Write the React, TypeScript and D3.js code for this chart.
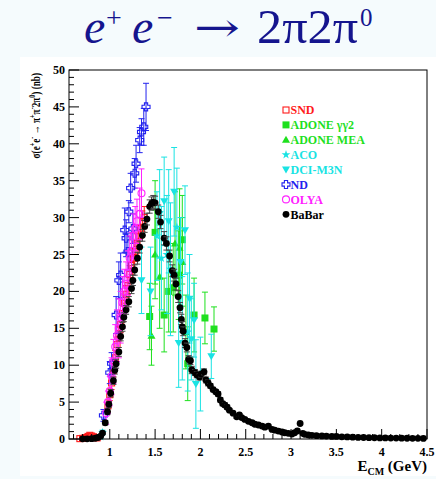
import React from "react";
import * as d3 from "d3";

// ---------- data (E in GeV, sigma in nb, error in nb) ----------
const sndData: [number, number, number][] = [
  [0.67, 0.05, 0.04], [0.7, 0.08, 0.05], [0.72, 0.12, 0.06], [0.74, 0.2, 0.08], [0.76, 0.35, 0.1],
  [0.78, 0.5, 0.12], [0.8, 0.4, 0.1], [0.82, 0.3, 0.08], [0.84, 0.2, 0.08], [0.86, 0.15, 0.07],
  [0.98, 4.5, 0.8], [1.0, 6.0, 0.8], [1.02, 7.6, 0.9], [1.04, 9.3, 0.9], [1.06, 11.0, 1.0],
  [1.08, 12.8, 1.0], [1.1, 14.3, 1.0], [1.12, 15.5, 1.1], [1.14, 17.0, 1.1], [1.16, 18.4, 1.1],
  [1.18, 19.6, 1.2], [1.2, 20.8, 1.2], [1.22, 22.3, 1.2], [1.24, 23.5, 1.2], [1.26, 24.5, 1.3],
  [1.28, 25.4, 1.3], [1.3, 26.5, 1.3], [1.32, 27.5, 1.4], [1.34, 28.6, 1.4], [1.36, 29.5, 1.4],
  [1.38, 30.0, 1.5],
];
const adoneGG2Data: [number, number, number][] = [
  [1.44, 16.6, 4.5], [1.5, 28.0, 7.0], [1.6, 16.8, 5.0], [1.65, 20.0, 5.5], [1.7, 20.5, 6.0],
  [1.76, 22.2, 6.0], [1.8, 27.0, 6.0], [1.86, 10.2, 5.0], [1.93, 16.8, 5.0], [2.05, 16.4, 3.5],
  [2.15, 14.9, 3.0],
];
const adoneMEAData: [number, number, number][] = [
  [1.46, 14.0, 4.0], [1.5, 25.0, 6.0], [1.55, 22.0, 7.0], [1.72, 26.5, 7.0], [1.77, 25.9, 8.0],
  [1.8, 24.0, 6.0], [1.84, 14.5, 5.0],
];
const acoData: [number, number, number][] = [
  [0.9, 0.3, 0.2], [0.92, 0.9, 0.3], [1.52, 27.5, 6.0], [1.57, 24.5, 7.0], [1.63, 25.0, 8.0],
  [1.67, 23.0, 9.0], [1.74, 28.7, 8.0], [1.8, 15.0, 7.0], [1.86, 14.5, 8.0],
];
const dciData: [number, number, number][] = [
  [1.35, 21.5, 4.5], [1.45, 20.0, 6.0], [1.55, 30.5, 6.0], [1.6, 32.2, 6.0], [1.65, 29.5, 7.0],
  [1.71, 33.5, 6.0], [1.76, 13.0, 6.0], [1.78, 24.0, 6.0], [1.83, 28.3, 6.0], [1.88, 19.0, 6.0],
  [1.9, 13.5, 5.5], [1.93, 16.1, 5.0], [1.95, 7.45, 6.0], [2.0, 8.8, 5.0], [2.12, 11.2, 3.0],
];
const ndData: [number, number, number][] = [
  [0.93, 3.2, 0.8], [1.0, 9.0, 1.5], [1.02, 10.2, 1.5], [1.07, 16.8, 2.5], [1.1, 21.5, 2.5],
  [1.12, 22.2, 3.0], [1.165, 28.3, 3.0], [1.18, 27.2, 2.5], [1.2, 25.4, 2.5], [1.21, 30.8, 1.5],
  [1.23, 34.0, 2.0], [1.255, 28.5, 2.0], [1.275, 36.0, 2.0], [1.29, 37.3, 2.5], [1.33, 40.5, 1.7],
  [1.35, 41.6, 1.8], [1.375, 42.3, 2.5], [1.4, 45.0, 3.2],
];
const olyaData: [number, number, number][] = [
  [0.96, 3.5, 1.5], [0.98, 5.0, 1.5], [1.0, 6.5, 2.0], [1.02, 8.5, 2.5], [1.04, 10.5, 3.0],
  [1.06, 12.5, 3.0], [1.08, 14.0, 3.5], [1.1, 15.0, 4.0], [1.12, 16.5, 3.5], [1.14, 18.5, 3.5],
  [1.16, 20.0, 3.0], [1.18, 21.0, 3.0], [1.2, 22.5, 3.0], [1.22, 24.5, 3.0], [1.24, 25.5, 2.5],
  [1.26, 27.5, 3.0], [1.28, 28.5, 3.0], [1.3, 29.5, 3.0], [1.33, 30.5, 3.5], [1.35, 33.3, 3.3],
];
const babarData: [number, number, number][] = [
  [0.7, 0.02, 0.02], [0.75, 0.03, 0.02], [0.8, 0.05, 0.03], [0.84, 0.1, 0.05], [0.87, 0.2, 0.08],
  [0.9, 0.4, 0.1], [0.92, 0.8, 0.15], [0.95, 2.2, 0.3], [0.975, 3.7, 0.4], [0.99, 4.7, 0.4],
  [1.01, 6.2, 0.5], [1.04, 7.9, 0.5], [1.055, 9.3, 0.5], [1.07, 10.2, 0.6], [1.1, 11.8, 0.6],
  [1.12, 13.9, 0.6], [1.14, 15.2, 0.6], [1.155, 16.5, 0.6], [1.18, 17.5, 0.6], [1.21, 18.6, 0.7],
  [1.24, 20.4, 0.7], [1.255, 21.5, 0.7], [1.275, 22.9, 0.7], [1.305, 24.5, 0.8], [1.33, 26.0, 0.8],
  [1.36, 27.6, 0.8], [1.385, 28.8, 0.8], [1.41, 29.8, 0.8], [1.44, 31.5, 0.9], [1.46, 31.9, 0.9],
  [1.48, 32.1, 0.9], [1.5, 32.0, 0.9], [1.535, 30.8, 0.9], [1.56, 29.4, 0.9], [1.6, 27.2, 0.9],
  [1.625, 26.5, 0.9], [1.66, 24.8, 0.8], [1.69, 22.8, 0.8], [1.71, 22.2, 0.8], [1.73, 21.0, 0.8],
  [1.755, 19.3, 0.8], [1.775, 17.8, 0.7], [1.79, 16.2, 0.7], [1.8, 15.2, 0.7], [1.81, 14.6, 0.6],
  [1.83, 13.0, 0.6], [1.85, 12.4, 0.6], [1.87, 10.8, 0.5], [1.89, 10.6, 0.5], [1.905, 9.35, 0.5],
  [1.94, 9.0, 0.4], [1.96, 8.7, 0.4], [1.99, 8.4, 0.4], [2.01, 8.8, 0.4], [2.04, 9.1, 0.4],
  [2.06, 8.0, 0.4], [2.085, 7.6, 0.4], [2.11, 7.2, 0.3], [2.14, 6.7, 0.3], [2.17, 6.4, 0.3],
  [2.195, 6.1, 0.3], [2.22, 5.3, 0.3], [2.245, 4.8, 0.3], [2.27, 4.6, 0.3], [2.295, 4.3, 0.3],
  [2.32, 3.9, 0.2], [2.36, 3.5, 0.2], [2.4, 3.0, 0.2], [2.43, 3.25, 0.2], [2.455, 2.9, 0.2],
  [2.49, 2.65, 0.2], [2.53, 2.4, 0.2], [2.57, 2.2, 0.2], [2.6, 2.0, 0.15], [2.64, 1.9, 0.15],
  [2.68, 1.75, 0.15], [2.71, 1.6, 0.15], [2.75, 1.75, 0.15], [2.79, 1.3, 0.1], [2.82, 1.2, 0.1],
  [2.86, 1.08, 0.1], [2.9, 0.95, 0.1], [2.93, 0.85, 0.1], [2.97, 0.77, 0.1], [3.01, 0.68, 0.1],
  [3.04, 0.85, 0.1], [3.07, 1.1, 0.1], [3.1, 2.1, 0.15], [3.13, 0.77, 0.1], [3.15, 0.64, 0.08],
  [3.19, 0.55, 0.08], [3.23, 0.5, 0.08], [3.28, 0.45, 0.07], [3.34, 0.42, 0.07], [3.39, 0.4, 0.07],
  [3.45, 0.35, 0.06], [3.5, 0.35, 0.06], [3.56, 0.3, 0.05], [3.62, 0.28, 0.05], [3.68, 0.25, 0.05],
  [3.74, 0.22, 0.05], [3.8, 0.2, 0.04], [3.86, 0.18, 0.04], [3.92, 0.17, 0.04], [3.98, 0.15, 0.04],
  [4.04, 0.14, 0.03], [4.1, 0.13, 0.03], [4.16, 0.12, 0.03], [4.22, 0.11, 0.03], [4.28, 0.1, 0.03],
  [4.34, 0.09, 0.03], [4.4, 0.09, 0.03], [4.46, 0.08, 0.03],
];

const xTicks = [1, 1.5, 2, 2.5, 3, 3.5, 4, 4.5];
const xTickLabels = ["1", "1.5", "2", "2.5", "3", "3.5", "4", "4.5"];
const yTicks = [0, 5, 10, 15, 20, 25, 30, 35, 40, 45, 50];
const legendLabels = ["SND", "ADONE \u03b3\u03b32", "ADONE MEA", "ACO", "DCI-M3N", "ND", "OLYA", "BaBar"];

// ---------- layout ----------
const W = 436, H = 479;
const L = 69, R = 427, T = 70, B = 439;
const x = d3.scaleLinear().domain([0.55, 4.5]).range([L, R]);
const y = d3.scaleLinear().domain([0, 50]).range([B, T]);

const SERIF = '"Liberation Serif", "Times New Roman", serif';
const RED = "#ff1a1a", GREEN = "#1ee01e", CYAN = "#19e3e3", BLUE = "#2222ee", MAG = "#ff22ff", BLACK = "#000";
const NAVY = "#15158e";

type Kind = "oSquare" | "fSquare" | "tUp" | "star" | "tDown" | "oCross" | "oCircle" | "fCircle";

function Marker({ kind, cx, cy, color }: { kind: Kind; cx: number; cy: number; color: string }) {
  switch (kind) {
    case "oSquare":
      return <rect x={cx - 3} y={cy - 3} width={6} height={6} fill="none" stroke={color} strokeWidth={1.1} />;
    case "fSquare":
      return <rect x={cx - 3.5} y={cy - 3.5} width={7} height={7} fill={color} />;
    case "tUp":
      return <path d={`M${cx},${cy - 4} L${cx + 4},${cy + 3} L${cx - 4},${cy + 3} Z`} fill={color} />;
    case "tDown":
      return <path d={`M${cx},${cy + 4} L${cx + 4},${cy - 3} L${cx - 4},${cy - 3} Z`} fill={color} />;
    case "star":
      return <path transform={`translate(${cx},${cy})`} d={d3.symbol(d3.symbolStar, 24)() || ""} fill={color} />;
    case "oCross": {
      const a = 1.6, b = 4;
      const d = `M${cx - a},${cy - b} H${cx + a} V${cy - a} H${cx + b} V${cy + a} H${cx + a} V${cy + b} H${cx - a} V${cy + a} H${cx - b} V${cy - a} H${cx - a} Z`;
      return <path d={d} fill="none" stroke={color} strokeWidth={1.1} />;
    }
    case "oCircle":
      return <circle cx={cx} cy={cy} r={3.5} fill="none" stroke={color} strokeWidth={1.1} />;
    case "fCircle":
      return <circle cx={cx} cy={cy} r={3.4} fill={color} />;
  }
}

function Series({ data, kind, color, errColor }: { data: [number, number, number][]; kind: Kind; color: string; errColor?: string }) {
  const ec = errColor || color;
  return (
    <g>
      {data.map(([e, s, er], i) => {
        const cx = x(e);
        const y1 = y(Math.min(50, s + er));
        const y0 = y(Math.max(0, s - er));
        return (
          <g key={i}>
            {y0 - y1 > 2 && (
              <g stroke={ec} strokeWidth={1}>
                <line x1={cx} x2={cx} y1={y1} y2={y0} />
                <line x1={cx - 3} x2={cx + 3} y1={y1} y2={y1} />
                <line x1={cx - 3} x2={cx + 3} y1={y0} y2={y0} />
              </g>
            )}
            <Marker kind={kind} cx={cx} cy={y(s)} color={color} />
          </g>
        );
      })}
    </g>
  );
}

export default function App() {
  const xMinor = d3.range(0.6, 4.501, 0.1).filter((v) => Math.abs(v * 2 - Math.round(v * 2)) > 0.01);
  const yMinor = d3.range(0, 50.01, 1).filter((v) => v % 5 !== 0);
  const legendKinds: Kind[] = ["oSquare", "fSquare", "tUp", "star", "tDown", "oCross", "oCircle", "fCircle"];
  const legendColors = [RED, GREEN, GREEN, CYAN, CYAN, BLUE, MAG, BLACK];
  const serif = { fontFamily: SERIF };

  return (
    <div style={{ position: "absolute", left: 0, top: 0 }}>
      <svg width={W} height={H} style={{ display: "block", fontFamily: SERIF }}>
        <rect x={0} y={0} width={W} height={H} fill="#f5fbfd" />
        <rect x={20} y={57} width={416} height={419} fill="#ffffff" />

        {/* title */}
        <g fill={NAVY} style={serif}>
          <text x={84} y={43} fontSize={48} fontStyle="italic" style={serif}>e</text>
          <text x={106} y={27} fontSize={28} style={serif}>+</text>
          <text x={132} y={43} fontSize={48} fontStyle="italic" style={serif}>e</text>
          <text x={157} y={27} fontSize={28} style={serif}>{"\u2212"}</text>
          <text x={194} y={41} fontSize={40} textLength={46} lengthAdjust="spacingAndGlyphs" style={{ fontFamily: '"DejaVu Serif", serif' }}>{"\u2192"}</text>
          <text x={257} y={43} fontSize={48} textLength={101} lengthAdjust="spacingAndGlyphs" style={serif}>{"2\u03c02\u03c0"}</text>
          <text x={360} y={26} fontSize={25} style={serif}>0</text>
        </g>

        {/* data */}
        <Series data={sndData} kind="oSquare" color={RED} />
        <Series data={adoneGG2Data} kind="fSquare" color={GREEN} />
        <Series data={adoneMEAData} kind="tUp" color={GREEN} />
        <Series data={acoData} kind="star" color={CYAN} />
        <Series data={dciData} kind="tDown" color={CYAN} />
        <Series data={ndData} kind="oCross" color={BLUE} />
        <Series data={olyaData} kind="oCircle" color={MAG} />
        <Series data={babarData} kind="fCircle" color={BLACK} errColor="#444" />

        {/* frame */}
        <rect x={L} y={T} width={R - L} height={B - T} fill="none" stroke="#000" strokeWidth={1} />

        {/* ticks */}
        <g stroke="#000" strokeWidth={1}>
          {xTicks.map((v, i) => (
            <line key={"xm" + i} x1={x(v)} x2={x(v)} y1={B} y2={B - 10} />
          ))}
          {xMinor.map((v, i) => (
            <line key={"xn" + i} x1={x(v)} x2={x(v)} y1={B} y2={B - 5} />
          ))}
          {yTicks.map((v, i) => (
            <line key={"ym" + i} x1={L} x2={L + 10} y1={y(v)} y2={y(v)} />
          ))}
          {yMinor.map((v, i) => (
            <line key={"yn" + i} x1={L} x2={L + 5} y1={y(v)} y2={y(v)} />
          ))}
        </g>
        <g fontSize={12} fontWeight="bold" fill="#000" style={serif}>
          {xTicks.map((v, i) => (
            <text key={"xl" + i} x={x(v)} y={456} textAnchor="middle" style={serif}>{xTickLabels[i]}</text>
          ))}
          {yTicks.map((v, i) => (
            <text key={"yl" + i} x={65} y={y(v) + 4} textAnchor="end" style={serif}>{String(v)}</text>
          ))}
        </g>

        {/* axis titles */}
        <text x={427} y={471} textAnchor="end" fontSize={15} fontWeight="bold" fill="#000" style={serif}>
          E<tspan fontSize={10} dy={4}>CM</tspan>
          <tspan dy={-4}>{" (GeV)"}</tspan>
        </text>
        <text transform="translate(40,73) rotate(-90) scale(0.68,1)" textAnchor="end" fontSize={13.5} fontWeight="bold" fill="#000" style={serif}>
          {"\u03c3(e"}
          <tspan fontSize={9} dy={-5.5}>+</tspan>
          <tspan dy={5.5}>e</tspan>
          <tspan fontSize={9} dy={-5.5}>-</tspan>
          <tspan dy={5.5}>{" \u2192 \u03c0"}</tspan>
          <tspan fontSize={9} dy={-5.5}>+</tspan>
          <tspan dy={5.5}>{"\u03c0"}</tspan>
          <tspan fontSize={9} dy={-5.5}>-</tspan>
          <tspan dy={5.5}>{"2\u03c0"}</tspan>
          <tspan fontSize={9} dy={-5.5}>0</tspan>
          <tspan dy={5.5}>{") (nb)"}</tspan>
        </text>

        {/* legend */}
        {legendLabels.map((lab, i) => {
          const cy = 110 + i * 14.9;
          return (
            <g key={"lg" + i}>
              <Marker kind={legendKinds[i]} cx={286} cy={cy} color={legendColors[i]} />
              <text x={290.5} y={cy + 4.3} fontSize={12} fontWeight="bold" fill={legendColors[i]} style={serif}>{lab}</text>
            </g>
          );
        })}
      </svg>
    </div>
  );
}
